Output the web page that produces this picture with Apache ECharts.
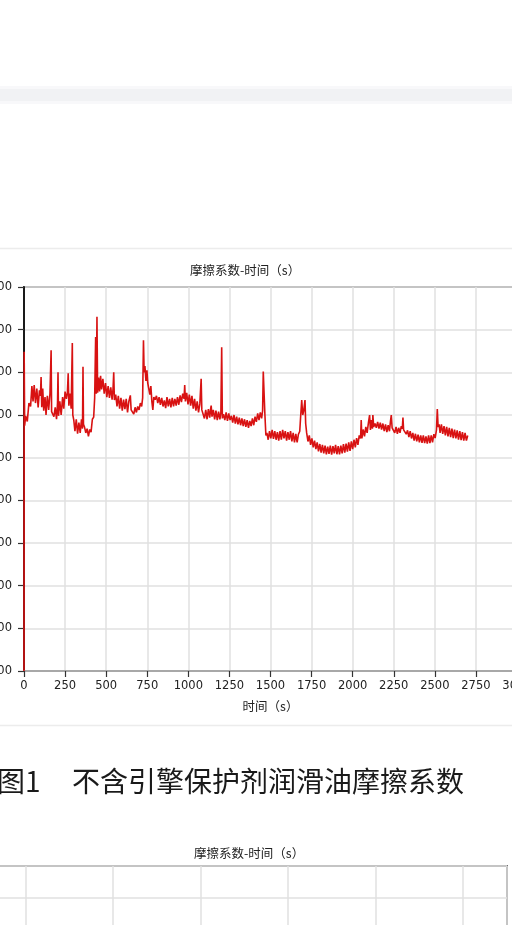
<!DOCTYPE html>
<html>
<head>
<meta charset="utf-8">
<script src="https://cdn.jsdelivr.net/npm/echarts@6/dist/echarts.min.js"></script>
<style>html,body{margin:0;padding:0;background:#fff;}#c{width:512px;height:925px;}</style>
</head>
<body>
<div id="c"></div>
<script>
// ---- data ----
var chartTitle = '摩擦系数-时间（s）';
var xName = '时间（s）';
var caption1 = '图1';
var caption2 = '不含引擎保护剂润滑油摩擦系数';
var xTicks = [0, 250, 500, 750, 1000, 1250, 1500, 1750, 2000, 2250, 2500, 2750, 3000];
var yTicks = [0, 0.1, 0.2, 0.3, 0.4, 0.5, 0.6, 0.7, 0.8, 0.9];

var timeS = [
0,1,4,10,20,30,40,48,55,62,70,78,86,94,100,104,108,114,120,128,134,142,150,158,
165,168,174,182,190,198,204,207,210,218,226,235,242,250,258,264,269,273,280,287,
294,297,303,310,318,326,334,342,350,356,359,362,368,376,384,392,400,408,416,424,430,
436,440,444,448,454,460,466,472,480,488,496,504,512,520,528,536,542,
546,550,558,566,574,582,590,598,606,614,622,630,638,647,652,660,668,676,684,692,700,708,716,722,
727,731,736,742,748,753,760,766,772,778,784,790,798,806,814,822,830,838,846,854,862,870,878,886,894,902,910,918,926,934,942,950,958,966,974,
978,982,990,998,1006,1014,1022,1030,1038,1046,1054,1062,1070,
1078,1082,1090,1098,1106,1114,1122,1130,1136,1139,1144,1152,1160,1168,1176,1184,1192,1198,
1203,1207,1214,1222,1230,1238,1246,1254,1262,1270,1278,1286,1294,1302,1310,1318,1326,1334,1342,1350,1358,1366,1374,1382,1390,1398,1406,1414,1422,1430,1438,1446,1452,
1456,1460,1466,1472,1478,1486,1494,1502,1510,1518,1526,1534,1542,1550,1558,1566,1574,1582,1590,1598,1606,1614,1622,1630,1638,1646,1654,1662,1670,1678,
1684,1690,1696,1702,1710,1714,
1720,1728,1736,1744,1752,1760,1768,1776,1784,1792,1800,1808,1816,1824,1832,1840,1848,1856,1864,1872,1880,1888,1896,1904,1912,1920,1928,1936,1944,1952,1960,1968,1976,1984,1992,2000,2008,2016,2024,2032,2040,2048,
2052,2056,2064,2072,2080,2088,2096,2103,2108,2114,2120,2123,2128,2136,2144,2152,2160,2168,2176,2184,2192,2200,2208,2216,2224,2230,2235,2240,2248,2256,2264,2272,2280,2288,2296,2302,
2306,2310,2318,2326,2334,2342,2350,2358,2366,2374,2382,2390,2398,2406,2414,2422,2430,2438,2446,2454,2462,2470,2478,2486,2494,2502,2510,
2515,2520,2526,2532,2540,2548,2556,2564,2572,2580,2588,2596,2604,2612,2620,2628,2636,2644,2652,2660,2668,2676,2684,2692,2700
];
var friction = [
0,0.748,0.575,0.598,0.585,0.628,0.62,0.668,0.632,0.67,0.628,0.662,0.618,0.658,0.645,0.689,0.618,0.662,0.61,0.642,0.6,0.645,0.612,0.65,
0.752,0.608,0.612,0.596,0.618,0.59,0.628,0.70,0.598,0.632,0.6,0.642,0.615,0.655,0.638,0.652,0.698,0.622,0.65,0.615,
0.769,0.6,0.588,0.562,0.59,0.556,0.582,0.558,0.59,0.568,0.713,0.578,0.572,0.558,0.568,0.55,0.566,0.56,0.59,0.595,0.64,
0.783,0.65,0.83,0.652,0.688,0.655,0.692,0.66,0.685,0.65,0.675,0.642,0.668,0.64,0.665,0.636,0.662,
0.70,0.635,0.648,0.62,0.645,0.615,0.64,0.61,0.636,0.614,0.638,0.606,0.632,0.646,0.612,0.612,0.602,0.618,0.606,0.62,0.612,0.628,0.62,0.64,
0.775,0.70,0.715,0.68,0.705,0.675,0.678,0.648,0.668,0.632,0.612,0.642,0.636,0.645,0.628,0.642,0.624,0.64,0.62,0.634,0.616,0.642,0.62,0.638,0.618,0.64,0.62,0.638,0.622,0.642,0.624,0.646,0.63,0.65,0.638,
0.67,0.632,0.652,0.625,0.648,0.622,0.645,0.615,0.638,0.61,0.632,0.606,0.626,
0.685,0.612,0.61,0.592,0.612,0.59,0.614,0.594,0.615,0.622,0.596,0.612,0.59,0.61,0.588,0.608,0.59,0.606,
0.759,0.592,0.602,0.588,0.606,0.586,0.604,0.588,0.598,0.582,0.6,0.58,0.596,0.578,0.594,0.576,0.592,0.574,0.59,0.572,0.588,0.57,0.586,0.574,0.592,0.576,0.596,0.584,0.604,0.588,0.606,0.592,0.61,
0.702,0.66,0.60,0.552,0.558,0.542,0.562,0.545,0.565,0.544,0.562,0.542,0.56,0.54,0.562,0.542,0.565,0.545,0.562,0.54,0.56,0.542,0.562,0.538,0.558,0.536,0.556,0.536,0.555,0.562,
0.60,0.635,0.60,0.61,0.635,0.58,
0.558,0.538,0.552,0.53,0.545,0.524,0.54,0.52,0.536,0.515,0.532,0.512,0.53,0.51,0.528,0.508,0.526,0.509,0.528,0.507,0.527,0.51,0.53,0.508,0.527,0.508,0.528,0.51,0.532,0.512,0.533,0.514,0.536,0.516,0.538,0.52,0.542,0.524,0.546,0.53,0.552,0.545,
0.588,0.545,0.566,0.55,0.572,0.558,0.582,0.60,0.565,0.588,0.568,0.60,0.572,0.58,0.57,0.584,0.568,0.582,0.566,0.58,0.562,0.578,0.56,0.576,0.562,0.585,0.60,0.57,0.574,0.558,0.572,0.556,0.57,0.558,0.574,0.568,
0.594,0.565,0.568,0.555,0.564,0.548,0.562,0.545,0.558,0.54,0.556,0.538,0.554,0.536,0.552,0.535,0.552,0.534,0.55,0.533,0.552,0.534,0.552,0.536,0.555,0.546,0.565,
0.614,0.572,0.578,0.558,0.578,0.556,0.574,0.552,0.572,0.55,0.57,0.548,0.568,0.546,0.566,0.545,0.564,0.542,0.562,0.541,0.56,0.54,0.558,0.54,0.552
];

var lineData = timeS.map(function (t, i) { return [t, friction[i]]; });

var tickFont = 'DejaVu Sans';
var cjkFont = 'Noto Sans CJK SC';

var chart = echarts.init(document.getElementById('c'), null, {renderer: 'canvas'});
chart.setOption({
  backgroundColor: '#ffffff',
  animation: false,
  title: [
    {text: chartTitle, left: 185, top: 259,
     textStyle: {fontSize: 12.5, fontWeight: 'normal', color: '#222', fontFamily: cjkFont}},
    {text: chartTitle, left: 189, top: 842,
     textStyle: {fontSize: 12.5, fontWeight: 'normal', color: '#222', fontFamily: cjkFont}}
  ],
  graphic: [
    {type: 'rect', shape: {x: 0, y: 86, width: 512, height: 18}, style: {fill: '#f8f8fa'}, silent: true},
    {type: 'rect', shape: {x: 0, y: 89, width: 512, height: 12}, style: {fill: '#f1f2f4'}, silent: true},
    {type: 'line', shape: {x1: 0, y1: 248.5, x2: 512, y2: 248.5}, style: {stroke: '#ececec', lineWidth: 1.5}, silent: true},
    {type: 'line', shape: {x1: 0, y1: 725.5, x2: 512, y2: 725.5}, style: {stroke: '#ececec', lineWidth: 1.5}, silent: true},
    {type: 'text', left: -3, top: 767, style: {text: caption1, font: '28px "Noto Sans CJK SC"', fill: '#1a1a1a'}, silent: true},
    {type: 'text', left: 72, top: 767, style: {text: caption2, font: '28px "Noto Sans CJK SC"', fill: '#1a1a1a'}, silent: true}
  ],
  grid: [
    {left: 24, top: 287, width: 493, height: 384, show: true, borderColor: '#707070', borderWidth: 2,
     backgroundColor: 'transparent', containLabel: false, outerBoundsMode: 'none'},
    {left: -62, top: 866, width: 569, height: 320, show: true, borderColor: '#707070', borderWidth: 2,
     backgroundColor: 'transparent', containLabel: false, outerBoundsMode: 'none'}
  ],
  xAxis: [
    {type: 'value', gridIndex: 0, min: 0, max: 3000, interval: 250,
     name: xName, nameLocation: 'middle', nameGap: 29,
     nameTextStyle: {fontSize: 12.5, color: '#222', fontFamily: cjkFont},
     axisLine: {show: true, onZero: false, lineStyle: {color: '#a8a8a8', width: 2}},
     axisTick: {show: true, length: 6, lineStyle: {color: '#333', width: 1.2}},
     axisLabel: {fontSize: 11.5, color: '#222', fontFamily: tickFont, margin: 9, hideOverlap: false,
                 formatter: function (v) { return String(v); }},
     splitLine: {show: true, lineStyle: {color: '#e0e0e0', width: 1.5}}},
    {type: 'value', gridIndex: 1, min: 0, max: 3250, interval: 500,
     axisLine: {show: false}, axisTick: {show: false}, axisLabel: {show: false},
     splitLine: {show: true, lineStyle: {color: '#e0e0e0', width: 1.5}}}
  ],
  yAxis: [
    {type: 'value', gridIndex: 0, min: 0, max: 0.9, interval: 0.1,
     axisLine: {show: true, onZero: false, lineStyle: {color: '#1a1a1a', width: 2}},
     axisTick: {show: true, length: 6, lineStyle: {color: '#333', width: 1.2}},
     axisLabel: {fontSize: 11.5, color: '#222', fontFamily: tickFont, margin: 12,
                 formatter: function (v) { return v.toFixed(3); }},
     splitLine: {show: true, lineStyle: {color: '#e0e0e0', width: 1.5}}},
    {type: 'value', gridIndex: 1, min: 0, max: 10, interval: 1,
     axisLine: {show: false}, axisTick: {show: false}, axisLabel: {show: false},
     splitLine: {show: true, lineStyle: {color: '#e0e0e0', width: 1.5}}}
  ],
  series: [
    {type: 'line', xAxisIndex: 0, yAxisIndex: 0, data: lineData, showSymbol: false, symbol: 'none',
     lineStyle: {color: '#d81212', width: 1.6}, z: 5}
  ]
});
</script>
</body>
</html>
